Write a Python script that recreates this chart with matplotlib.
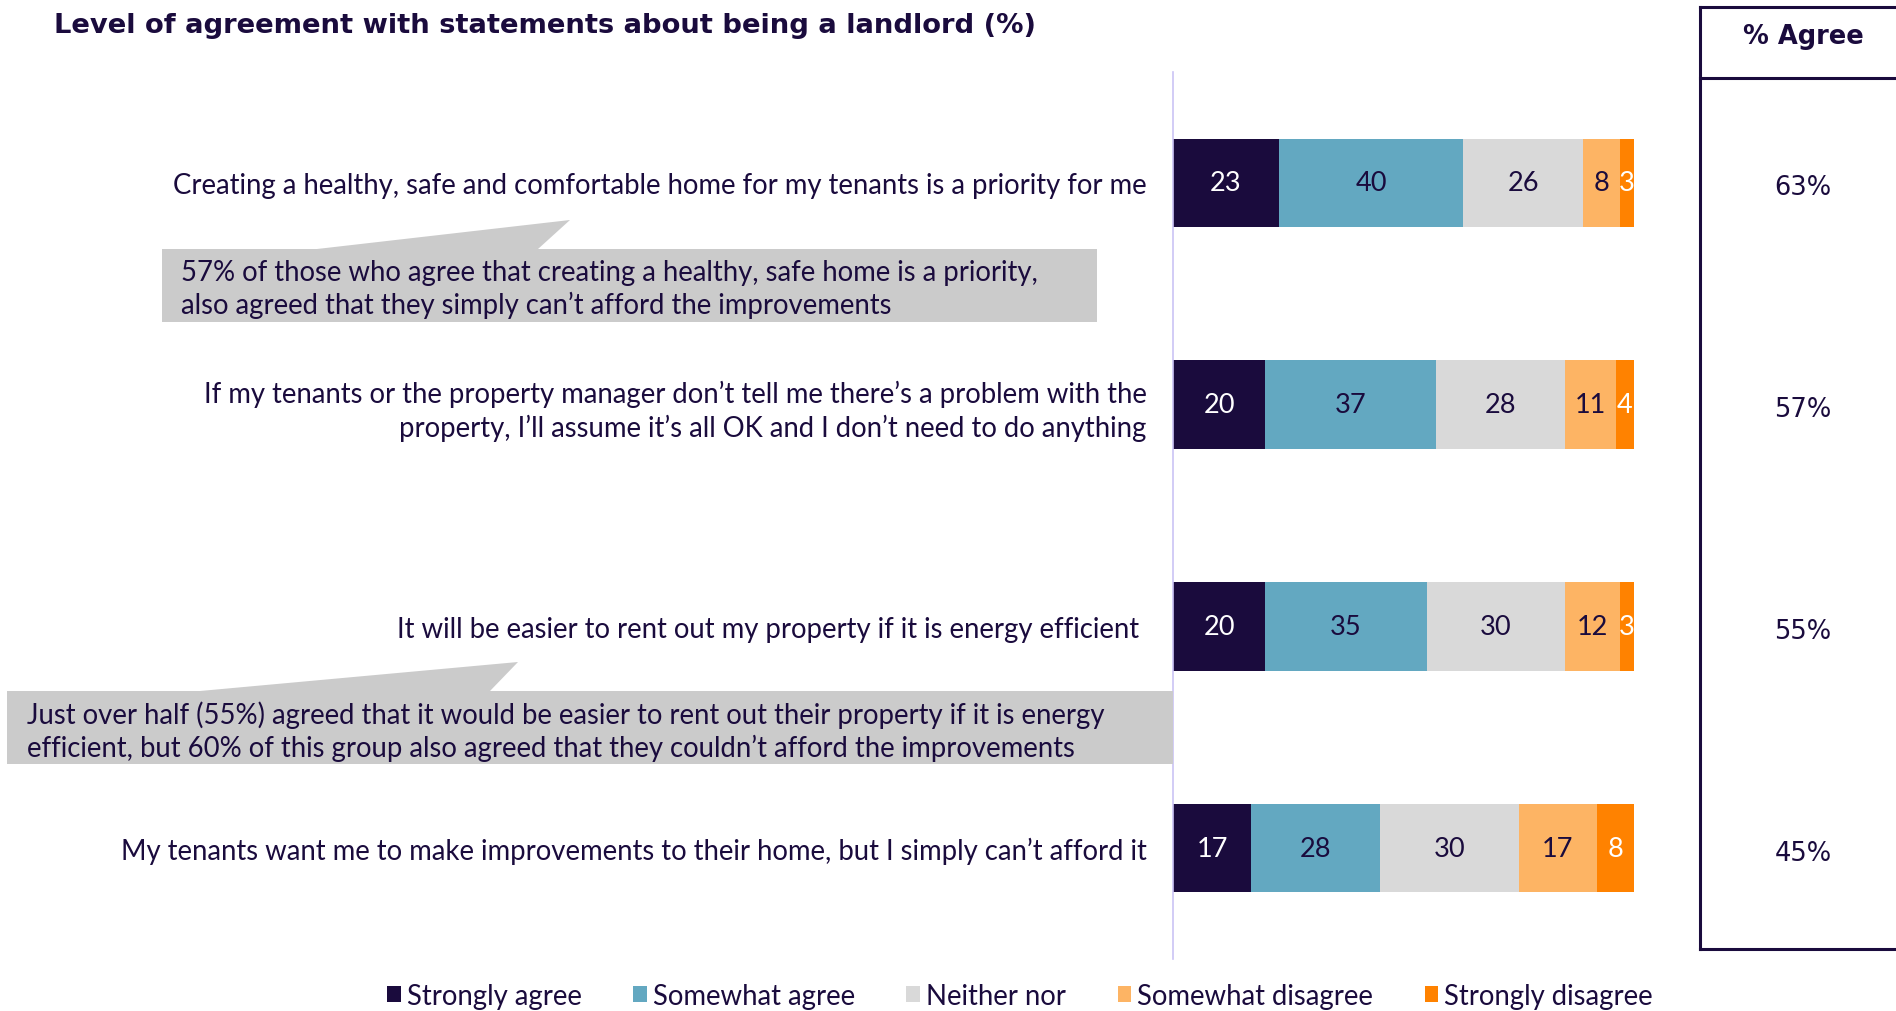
import matplotlib.pyplot as plt
import numpy as np
from matplotlib.patches import Polygon
from matplotlib.lines import Line2D
from matplotlib.transforms import blended_transform_factory

plt.rcParams["font.family"] = ["Lato", "DejaVu Sans"]

# データ
categories = [
    "Creating a healthy, safe and comfortable home for my tenants is a priority for me",
    "If my tenants or the property manager don’t tell me there’s a problem with the\n"
    "property, I’ll assume it’s all OK and I don’t need to do anything",
    "It will be easier to rent out my property if it is energy efficient ",
    "My tenants want me to make improvements to their home, but I simply can’t afford it",
]
series_names = ["Strongly agree", "Somewhat agree", "Neither nor", "Somewhat disagree", "Strongly disagree"]
strongly_agree = [23, 20, 20, 17]
somewhat_agree = [40, 37, 35, 28]
neither = [26, 28, 30, 30]
somewhat_disagree = [8, 11, 12, 17]
strongly_disagree = [3, 4, 3, 8]

callout_texts = [
    "57% of those who agree that creating a healthy, safe home is a priority,\n"
    "also agreed that they simply can’t afford the improvements",
    "Just over half (55%) agreed that it would be easier to rent out their property if it is energy\n"
    "efficient, but 60% of this group also agreed that they couldn’t afford the improvements",
]

NAVY = "#1a0b3d"
colors = [NAVY, "#63a8c1", "#d9d9d9", "#fdb464", "#ff8200"]
label_colors = ["white", NAVY, NAVY, NAVY, "white"]
GREY = "#cbcbcb"
BODY = 19.8

W, H = 1896, 1012


def fx(x):
    return x / W


def fy(y):
    return 1 - y / H


fig = plt.figure(figsize=(W / 100, H / 100), dpi=100)

# 棒グラフの軸
ax = fig.add_axes([fx(1173), fy(960), fx(1634) - fx(1173), fy(73) - fy(960)])
ypos = np.arange(len(categories))
series = [strongly_agree, somewhat_agree, neither, somewhat_disagree, strongly_disagree]
left = np.zeros(len(categories))
handles = []
for name, vals, c, lc in zip(series_names, series, colors, label_colors):
    vals = np.array(vals)
    bars = ax.barh(ypos, vals, left=left, height=0.4, color=c, linewidth=0, label=name)
    handles.append(bars)
    for y, l, v in zip(ypos, left, vals):
        ax.text(l + v / 2, y, str(v), ha="center", va="center", color=lc, fontsize=19.5)
    left = left + vals

ax.set_xlim(0, 100)
ax.set_ylim(len(categories) - 0.5, -0.5)
ax.set_xticks([])
ax.set_yticks(ypos)
ax.set_yticklabels(categories, fontsize=BODY, color=NAVY, linespacing=1.3)
ax.tick_params(axis="y", length=0, pad=19)
for s in ["top", "right", "bottom"]:
    ax.spines[s].set_visible(False)
ax.spines["left"].set_color("#cbc3f5")
ax.spines["left"].set_linewidth(1.2)

# タイトル
fig.text(fx(54), fy(26), "Level of agreement with statements about being a landlord (%)",
         fontsize=19.7, fontweight="bold", family="DejaVu Sans", color=NAVY,
         ha="left", va="center")


# 吹き出し
def draw_callout(box, base, tip, text, text_x):
    x0, y0, x1, y1 = box
    pts = [(x0, y0), (base[0], y0), tip, (base[1], y0), (x1, y0), (x1, y1), (x0, y1)]
    poly = Polygon([(fx(x), fy(y)) for x, y in pts], closed=True, transform=fig.transFigure,
                   facecolor=GREY, edgecolor="none", zorder=0)
    fig.patches.append(poly)
    fig.text(fx(text_x), fy((y0 + y1) / 2 + 3), text, fontsize=BODY, color=NAVY,
             ha="left", va="center", linespacing=1.28)


draw_callout((162, 250, 1097, 323), (317, 538), (570, 221), callout_texts[0], 181)
draw_callout((7, 692, 1173, 765), (200, 490), (518, 663), callout_texts[1], 27)

# % Agree の表
line_kw = dict(color=NAVY, linewidth=2.2, transform=fig.transFigure)
fig.add_artist(Line2D([fx(1700), fx(1700)], [fy(8), fy(950)], **line_kw))
fig.add_artist(Line2D([fx(1700), 1], [fy(8), fy(8)], **line_kw))
fig.add_artist(Line2D([fx(1700), 1], [fy(79), fy(79)], **line_kw))
fig.add_artist(Line2D([fx(1700), 1], [fy(950), fy(950)], **line_kw))
fig.text(fx(1803), fy(37), "% Agree", fontsize=18.5, fontweight="bold", family="DejaVu Sans",
         color=NAVY, ha="center", va="center")
agree = np.array(strongly_agree) + np.array(somewhat_agree)
trans = blended_transform_factory(fig.transFigure, ax.transData)
for y, a in zip(ypos, agree):
    fig.text(fx(1803), y + 0.02, f"{a}%", transform=trans, fontsize=18.5, family="DejaVu Sans",
             color=NAVY, ha="center", va="center")

# 凡例
fig.legend(handles=handles, loc="center", bbox_to_anchor=(fx(1020), fy(997)), ncol=5,
           frameon=False, fontsize=BODY, handlelength=0.5, handleheight=0.5,
           handletextpad=0.22, columnspacing=1.87, borderpad=0, labelcolor=NAVY)

fig.savefig("out.png", dpi=100)
